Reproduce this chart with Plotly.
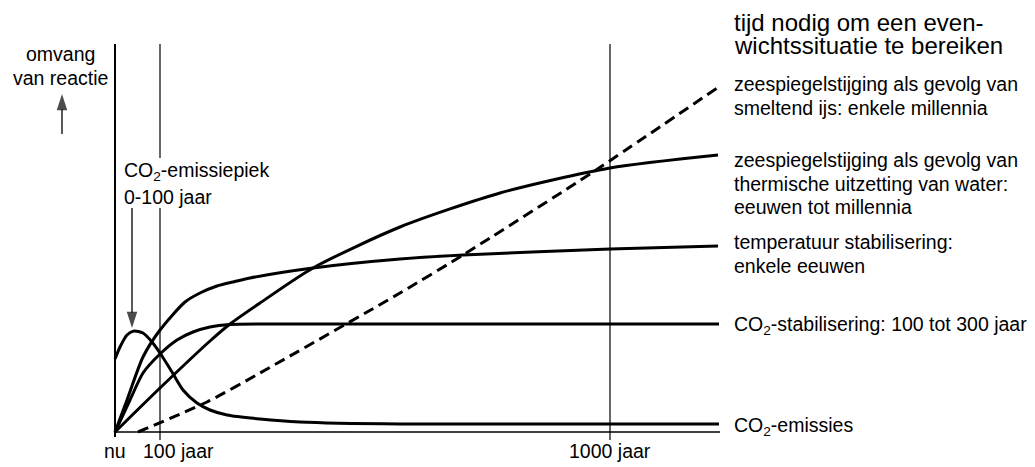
import plotly.graph_objects as go

# ---- data (schematic units: x = time axis position, y = magnitude of response) ----
emis_x = [0, 5, 12, 19, 28, 37, 45, 57, 68, 82, 95, 112, 145, 185, 285, 400, 604]
emis_y = [73, 85, 97, 101, 99, 90, 79, 60, 42, 29, 22, 17, 13, 10, 8, 8, 8]

stab_x = [0, 15, 28, 45, 62, 78, 95, 115, 150, 250, 604]
stab_y = [0, 32, 59, 78, 92, 100, 105, 107.5, 108, 108, 108]

temp_x = [0, 12, 28, 45, 70, 85, 102, 118, 135, 198, 285, 348, 495, 603]
temp_y = [0, 32, 75, 102, 130, 139, 146, 150, 154, 164, 173, 177, 183, 186]

therm_x = [0, 45, 95, 115, 145, 198, 285, 385, 495, 603]
therm_y = [0, 44, 91, 108, 129, 164, 205, 239, 264, 277]

ice_x = [23, 92, 145, 285, 348, 478, 605]
ice_y = [0, 30, 59, 139, 177, 260, 346]

tick_pos = [0, 45, 495]
tick_labels = ["nu", "100 jaar", "1000 jaar"]
x_end = 604
y_top = 388

curve_labels = [
    ("zeespiegelstijging als gevolg van", 348),
    ("smeltend ijs: enkele millennia", 324),
    ("zeespiegelstijging als gevolg van", 272),
    ("thermische uitzetting van water:", 248.5),
    ("eeuwen tot millennia", 225),
    ("temperatuur stabilisering:", 190),
    ("enkele eeuwen", 166.5),
    ("CO<sub>2</sub>-stabilisering: 100 tot 300 jaar", 107),
    ("CO<sub>2</sub>-emissies", 6),
]
title_lines = [("tijd nodig om een even-", 410), ("wichtssituatie te bereiken", 387)]

FONT = "Liberation Sans, Arial, Helvetica, sans-serif"
FS = 19.5
FS_TITLE = 24

fig = go.Figure()
curves = [(emis_x, emis_y), (stab_x, stab_y), (temp_x, temp_y), (therm_x, therm_y)]
for xs, ys in curves:
    fig.add_trace(go.Scatter(x=xs, y=ys, mode="lines",
                             line=dict(color="black", width=3, shape="spline", smoothing=0.7),
                             hoverinfo="skip", showlegend=False))
fig.add_trace(go.Scatter(x=ice_x, y=ice_y, mode="lines",
                         line=dict(color="black", width=3, shape="spline", smoothing=0.6, dash="11px,6px"),
                         hoverinfo="skip", showlegend=False))

# arrows (line + arrowhead marker at the tip)
for (xa, ya) in [([-53, -53], [298, 338]), ([17, 17], [224, 104])]:
    fig.add_trace(go.Scatter(x=xa, y=ya, mode="lines+markers",
                             line=dict(color="black", width=1.3),
                             marker=dict(symbol="arrow", size=[0, 17], angleref="previous", color="black",
                                         line=dict(width=0)),
                             hoverinfo="skip", showlegend=False))

shapes = []
# axes
shapes.append(dict(type="line", x0=0, x1=0, y0=-5, y1=y_top, line=dict(color="black", width=2)))
shapes.append(dict(type="line", x0=0, x1=x_end + 1, y0=0, y1=0, line=dict(color="black", width=1.3)))
# reference lines at 100 and 1000 years
shapes.append(dict(type="line", x0=tick_pos[1], x1=tick_pos[1], y0=-8, y1=224, line=dict(color="black", width=1.2)))
shapes.append(dict(type="line", x0=tick_pos[1], x1=tick_pos[1], y0=274, y1=y_top, line=dict(color="black", width=1.2)))
shapes.append(dict(type="line", x0=tick_pos[2], x1=tick_pos[2], y0=-8, y1=y_top, line=dict(color="black", width=1.2)))

ann = []
for txt, y in curve_labels:
    ann.append(dict(x=617, y=y, xref="x", yref="y", text=txt, showarrow=False,
                    xanchor="left", yanchor="middle", font=dict(family=FONT, size=FS, color="black")))
for txt, y in title_lines:
    ann.append(dict(x=617, y=y, xref="x", yref="y", text=txt, showarrow=False,
                    xanchor="left", yanchor="middle", font=dict(family=FONT, size=FS_TITLE, color="black")))
# tick labels
tick_x_text = [0, 63, 495]
for xp, lab in zip(tick_x_text, tick_labels):
    ann.append(dict(x=xp, y=-19, xref="x", yref="y", text=lab, showarrow=False,
                    xanchor="center", yanchor="middle", font=dict(family=FONT, size=FS, color="black")))
# y-axis title
ann.append(dict(x=-55, y=378, xref="x", yref="y", text="omvang", showarrow=False,
                xanchor="center", yanchor="middle", font=dict(family=FONT, size=FS, color="black")))
ann.append(dict(x=-55, y=354.5, xref="x", yref="y", text="van reactie", showarrow=False,
                xanchor="center", yanchor="middle", font=dict(family=FONT, size=FS, color="black")))
# peak label
ann.append(dict(x=7, y=261, xref="x", yref="y", text="CO<sub>2</sub>-emissiepiek", showarrow=False,
                xanchor="left", yanchor="middle", font=dict(family=FONT, size=FS, color="black")))
ann.append(dict(x=7, y=235, xref="x", yref="y", text="0-100 jaar", showarrow=False,
                xanchor="left", yanchor="middle", font=dict(family=FONT, size=FS, color="black")))

W, H = 1035, 467
fig.update_layout(
    width=W, height=H,
    margin=dict(l=0, r=0, t=0, b=0),
    paper_bgcolor="white", plot_bgcolor="white",
    xaxis=dict(range=[-115, W - 115], visible=False, fixedrange=True),
    yaxis=dict(range=[432 - H, 432], visible=False, fixedrange=True),
    shapes=shapes, annotations=ann, showlegend=False,
    hovermode=False,
)
fig.write_html("out.html", config={"displayModeBar": False, "staticPlot": True},
               post_script="document.body.style.margin='0px';document.body.style.overflow='hidden';")
